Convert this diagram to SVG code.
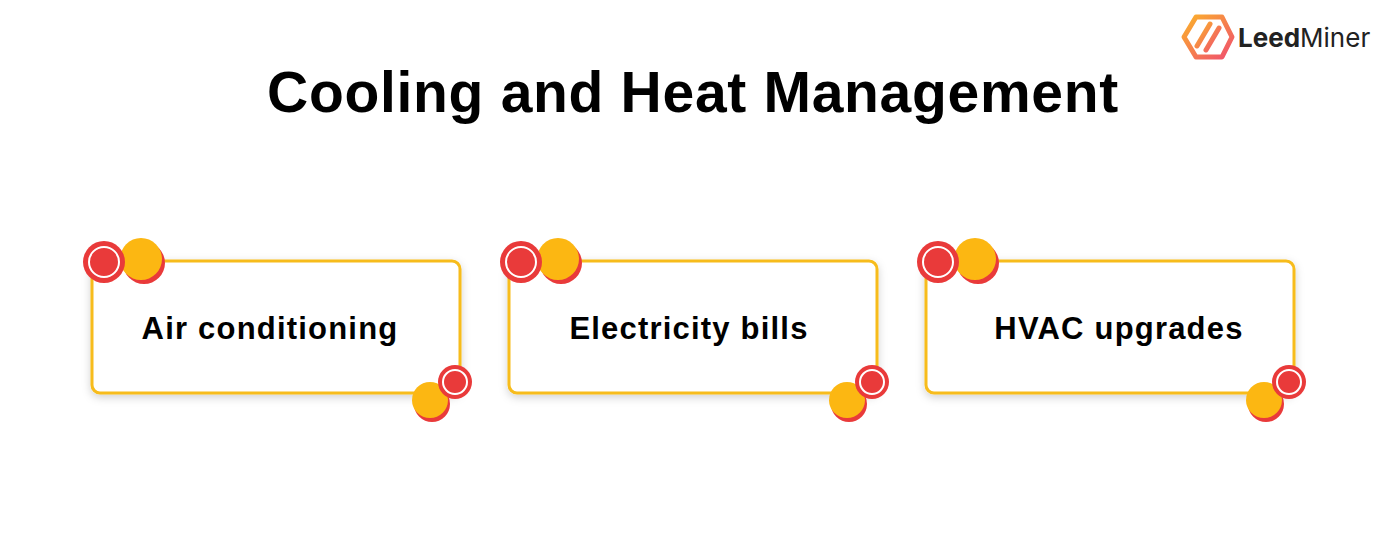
<svg xmlns="http://www.w3.org/2000/svg" width="1389" height="543" viewBox="0 0 1389 543">
<defs>
<style>
.box{fill:#fff;stroke:#f7bc1a;stroke-width:3}
.lbl{font-family:"Liberation Sans",Arial,sans-serif;font-weight:bold;font-size:31px;letter-spacing:1.2px;fill:#000;text-anchor:middle}
.red{fill:#e93a3a}
.yel{fill:#fcb712}
.ring{fill:none;stroke:#fff;stroke-width:2}
</style>
<filter id="sh" x="-10%" y="-10%" width="120%" height="130%"><feDropShadow dx="0" dy="3" stdDeviation="4" flood-color="#000" flood-opacity="0.18"/></filter>
<linearGradient id="lg" x1="0" y1="0" x2="1" y2="1"><stop offset="0" stop-color="#fbb12b"/><stop offset="1" stop-color="#f0506e"/></linearGradient>
<g id="deco">
<circle class="red" cx="144" cy="263" r="21"/>
<circle class="yel" cx="141" cy="259" r="21"/>
<circle class="red" cx="104" cy="262" r="21"/>
<circle class="ring" cx="104" cy="262" r="15"/>
<circle class="red" cx="432" cy="404" r="18"/>
<circle class="yel" cx="430" cy="400" r="18"/>
<circle class="red" cx="455" cy="382" r="17"/>
<circle class="ring" cx="455" cy="382" r="12"/>
</g>
</defs>
<rect width="1389" height="543" fill="#fff"/>
<g id="logo">
<path d="M1196 17 L1222 17 L1232 37 L1222 57 L1196 57 L1184 37 Z" fill="none" stroke="url(#lg)" stroke-width="5" stroke-linejoin="round"/>
<path d="M1197 46 L1210 24 M1206 50 L1219 28" stroke="url(#lg)" stroke-width="5" stroke-linecap="round"/>
<text x="1238" y="47" font-family="Inter,'Liberation Sans',sans-serif" font-size="26" fill="#222"><tspan font-weight="bold">Leed</tspan>Miner</text>
</g>
<text x="693" y="112" font-family="'Liberation Sans',Arial,sans-serif" font-weight="bold" font-size="57" letter-spacing="0.7" text-anchor="middle" fill="#000">Cooling and Heat Management</text>
<g id="n1">
<rect class="box" x="92" y="261" width="368" height="132" rx="8" filter="url(#sh)"/>
<use href="#deco"/>
<text class="lbl" x="270" y="339">Air conditioning</text>
</g>
<g id="n2">
<rect class="box" x="509" y="261" width="368" height="132" rx="8" filter="url(#sh)"/>
<use href="#deco" x="417"/>
<text class="lbl" x="689" y="339">Electricity bills</text>
</g>
<g id="n3">
<rect class="box" x="926" y="261" width="368" height="132" rx="8" filter="url(#sh)"/>
<use href="#deco" x="834"/>
<text class="lbl" x="1119" y="339">HVAC upgrades</text>
</g>
<g id="connectors"/>
</svg>
